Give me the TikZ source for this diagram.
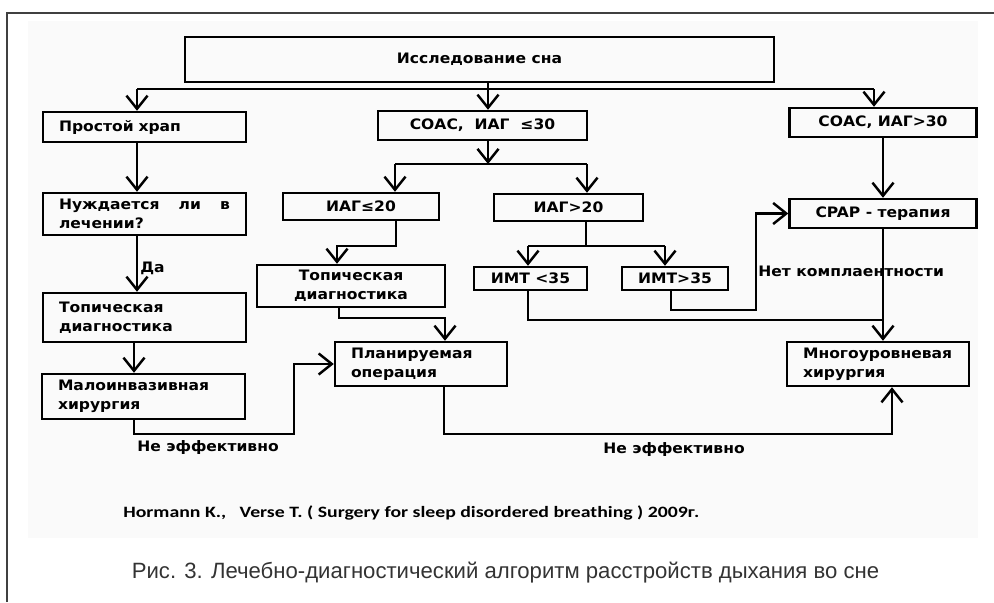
\documentclass[tikz,border=0pt]{standalone}
\usepackage{fontspec}
\usepackage{tikz}
\usetikzlibrary{arrows.meta}
\newfontfamily\diagfont{DejaVu Sans}[FakeStretch=1.08]
\newfontfamily\reffont{Carlito}[FakeStretch=1.25]
\newfontfamily\capfont{Liberation Sans}
\newcommand{\boxtext}{\diagfont\bfseries\fontsize{8.2}{10.8}\selectfont}

\tikzset{
  blk/.style={draw, line width=1.4pt, inner sep=0pt, font=\boxtext, align=center},
  lblk/.style={blk, align=left, inner xsep=0.32cm},
  lbl/.style={inner sep=0pt, font=\boxtext, anchor=west},
  ln/.style={line width=1.4pt},
  arr/.style={ln, -{Straight Barb[length=7.5pt, width=12pt]}},
}

\begin{document}
\begin{tikzpicture}[x=0.02cm, y=-0.02cm]
	\useasboundingbox (0,0) rectangle (994,602);
	\fill[black!2] (28,21) rectangle (978,538);
	\draw[black!75, line width=0.6pt] (7,602) -- (7,13) -- (994,13);

	% boxes
	\node[blk, minimum width=11.78cm, minimum height=0.9cm] (study) at (479.5,59.5) {Исследование сна};
	\node[lblk, text width=3.42cm, minimum height=0.6cm] (snore) at (144.5,127) {Простой храп};
	\node[blk, minimum width=4.18cm, minimum height=0.58cm] (osa30) at (482.5,125.5) {СОАС,\ \ ИАГ\ \ ≤30};
	\node[blk, minimum width=3.74cm, minimum height=0.58cm] (osa30p) at (883,122.5) {СОАС, ИАГ>30};
	\node[lblk, text width=3.42cm, minimum height=0.84cm] (need) at (144.5,214) {Нуждается\hfill ли\hfill в\\лечении?};
	\node[blk, minimum width=3.12cm, minimum height=0.54cm] (agi20) at (361,206.5) {ИАГ≤20};
	\node[blk, minimum width=2.98cm, minimum height=0.54cm] (agi20p) at (568.5,207.5) {ИАГ>20};
	\node[blk, minimum width=3.74cm, minimum height=0.58cm] (cpap) at (883,213.5) {CPAP - терапия};
	\node[blk, minimum width=3.76cm, minimum height=0.84cm] (topmid) at (351,286) {Топическая\\диагностика};
	\node[blk, minimum width=2.26cm, minimum height=0.46cm] (bmi35m) at (530.5,278.5) {ИМТ <35};
	\node[blk, minimum width=2.12cm, minimum height=0.46cm] (bmi35p) at (675,278.5) {ИМТ>35};
	\node[lblk, text width=3.42cm, minimum height=0.98cm] (topleft) at (144.5,317.5) {Топическая\\диагностика};
	\node[lblk, text width=3.42cm, minimum height=0.9cm] (minor) at (143.5,396.5) {Малоинвазивная\\хирургия};
	\node[lblk, text width=2.8cm, minimum height=0.88cm] (plan) at (421,364) {Планируемая\\операция};
	\node[lblk, text width=3.0cm, minimum height=0.88cm] (multi) at (878,364) {Многоуровневая\\хирургия};

	% bend points
	\coordinate (busL) at (137,89);
	\coordinate (busM) at (488,89);
	\coordinate (busR) at (874,89);
	\coordinate (lc) at (134,434);
	\coordinate (b1) at (294,434);
	\coordinate (m1) at (488,164);
	\coordinate (m1L) at (395,164);
	\coordinate (m1R) at (587,164);
	\coordinate (t1) at (396,246);
	\coordinate (t2) at (337,246);
	\coordinate (m2) at (586,246);
	\coordinate (m2L) at (528,246);
	\coordinate (m2R) at (665,246);
	\coordinate (r1) at (671,310);
	\coordinate (r2) at (756,310);
	\coordinate (r3) at (528,320);
	\coordinate (cv) at (883,320);
	\coordinate (p1) at (339,318);
	\coordinate (p2) at (445,318);
	\coordinate (q1) at (444,434);
	\coordinate (q2) at (892,434);

	% connectors
	\draw[ln] (busL) -- (busR);
	\draw[arr] (busM |- study.south) -- (busM |- osa30.north);
	\draw[arr] (busL) -- (busL |- snore.north);
	\draw[arr] (busR) -- (busR |- osa30p.north);

	\draw[arr] (busL |- snore.south) -- (busL |- need.north);
	\draw[arr] (busL |- need.south) -- (busL |- topleft.north);
	\node[lbl] (yes) at (140,268) {Да};
	\draw[arr] (lc |- topleft.south) -- (lc |- minor.north);
	\draw[arr] (lc |- minor.south) -- (lc) -- (b1) |- (plan.west);
	\node[lbl] (ne1) at (137,448) {Не эффективно};

	\draw[arr] (m1 |- osa30.south) -- (m1);
	\draw[ln] (m1L) -- (m1R);
	\draw[arr] (m1L) -- (m1L |- agi20.north);
	\draw[arr] (m1R) -- (m1R |- agi20p.north);

	\draw[arr] (t1 |- agi20.south) -- (t1) -- (t2) -- (t2 |- topmid.north);
	\draw[ln] (m2 |- agi20p.south) -- (m2);
	\draw[ln] (m2L) -- (m2R);
	\draw[arr] (m2L) -- (m2L |- bmi35m.north);
	\draw[arr] (m2R) -- (m2R |- bmi35p.north);

	\draw[arr] (r1 |- bmi35p.south) -- (r1) -- (r2) |- (cpap.west);
	\draw[ln] (r3 |- bmi35m.south) -- (r3) -- (cv);
	\draw[arr] (osa30p.south) -- (cpap.north);
	\draw[arr] (cpap.south) -- (cpap.south |- multi.north);
	\node[lbl] (nocomp) at (758,271) {Нет комплаентности};

	\draw[arr] (p1 |- topmid.south) -- (p1) -- (p2) -- (p2 |- plan.north);
	\draw[arr] (q1 |- plan.south) -- (q1) -- (q2) -- (q2 |- multi.south);
	\node[lbl] (ne2) at (603,450) {Не эффективно};

	% source and caption
	\node[anchor=west, inner sep=0pt, font=\reffont\bfseries\fontsize{9}{11}\selectfont] (ref) at (123,513) {Hormann K.,\ \ \ Verse T. ( Surgery for sleep disordered breathing ) 2009г.};
	\node[inner sep=0pt, text=black!80, font=\capfont\fontsize{12.6}{14}\selectfont] (caption) at (505.5,573) {Рис. 3. Лечебно-диагностический алгоритм расстройств дыхания во сне};
\end{tikzpicture}
\end{document}
